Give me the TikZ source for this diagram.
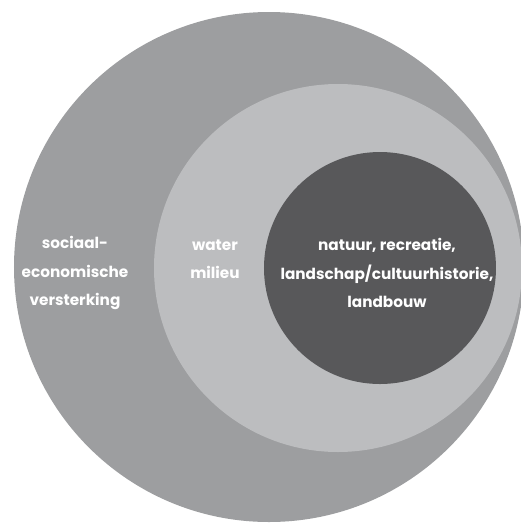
\documentclass[tikz,border=0pt]{standalone}
\usepackage{fontspec}
\setmainfont{Poppins}
\definecolor{ringout}{HTML}{9D9EA0}
\definecolor{ringmid}{HTML}{BCBDBF}
\definecolor{ringin}{HTML}{58585A}
\tikzset{
  label/.style={text=white, font=\bfseries\fontsize{8.7}{16.2}\selectfont, align=center}
}
\begin{document}
\begin{tikzpicture}[x=0.02cm, y=-0.02cm]
		\useasboundingbox (0,0) rectangle (521,529);
		\clip (0,0) rectangle (521,529);
		\fill[ringout] (269,267) circle (255);
		\fill[ringmid] (338,268) circle (184);
		\fill[ringin] (380,268) circle (116);
		
		\node[label] (social) at (75,273) {sociaal-\\economische\\versterking};
		\node[label] (water) at (215,259) {water\\milieu};
		\node[label] (nature) at (387,273) {natuur, recreatie,\\landschap/cultuurhistorie,\\landbouw};
		\end{tikzpicture}
\end{document}
